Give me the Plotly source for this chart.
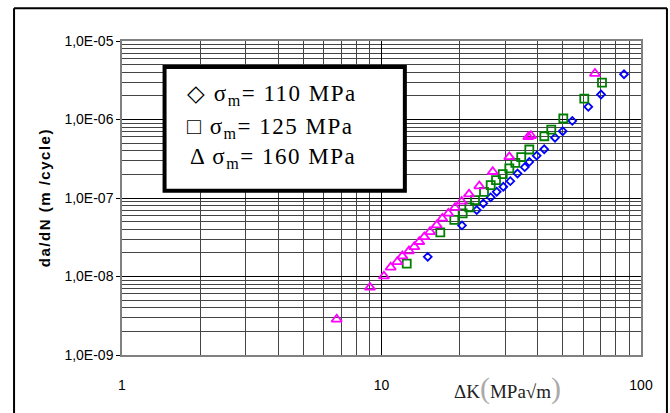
import plotly.graph_objects as go

# Data
dk_110 = [15.07, 20.43, 23.28, 24.68, 26.35, 27.79, 29.47, 31.36, 33.43, 35.64,
          37.12, 39.64, 42.36, 46.63, 49.93, 54.36, 62.64, 70.14, 86.0]
da_110 = [1.78e-8, 4.47e-8, 7.01e-8, 8.52e-8, 1.02e-7, 1.20e-7, 1.39e-7, 1.64e-7, 2.05e-7, 2.47e-7,
          2.88e-7, 3.46e-7, 4.18e-7, 5.86e-7, 7.09e-7, 9.59e-7, 1.45e-6, 2.08e-6, 3.77e-6]

dk_125 = [12.51, 16.85, 19.08, 20.55, 21.80, 22.93, 24.83, 26.35, 27.62, 29.32,
          31.09, 32.79, 34.55, 37.12, 42.41, 45.11, 50.19, 60.45, 70.75]
da_125 = [1.46e-8, 3.64e-8, 5.27e-8, 6.36e-8, 7.58e-8, 9.39e-8, 1.20e-7, 1.46e-7, 1.69e-7, 2.01e-7,
          2.38e-7, 2.80e-7, 3.31e-7, 4.15e-7, 6.12e-7, 7.45e-7, 1.03e-6, 1.85e-6, 2.95e-6]

dk_160 = [6.72, 9.03, 10.22, 10.85, 11.51, 12.03, 12.76, 13.38, 13.98, 14.62,
          15.38, 16.32, 17.15, 18.09, 19.20, 20.37, 21.74, 23.82, 26.83, 31.09,
          36.79, 37.68, 66.47]
da_160 = [2.85e-9, 7.27e-9, 1.01e-8, 1.31e-8, 1.54e-8, 1.82e-8, 2.11e-8, 2.39e-8, 2.77e-8, 3.20e-8,
          3.71e-8, 4.51e-8, 5.49e-8, 6.36e-8, 7.54e-8, 9.04e-8, 1.12e-7, 1.42e-7, 2.16e-7, 3.34e-7,
          6.00e-7, 6.21e-7, 3.85e-6]

x_tickvals = [1, 10, 100]
x_ticktext = ["1", "10", "100"]
y_tickvals = [1e-9, 1e-8, 1e-7, 1e-6, 1e-5]
y_ticktext = ["1,0E-09", "1,0E-08", "1,0E-07", "1,0E-06", "1,0E-05"]

legend_labels = ["\u25C7 \u03C3<sub>m</sub>= 110 MPa",
                 "\u25A1 \u03C3<sub>m</sub>= 125 MPa",
                 "\u0394 \u03C3<sub>m</sub>= 160 MPa"]

fig = go.Figure()
fig.add_trace(go.Scatter(x=dk_110, y=da_110, mode="markers", showlegend=False,
                         marker=dict(symbol="diamond-open", size=6, color="#0000FF",
                                     line=dict(width=1.8, color="#0000FF"))))
fig.add_trace(go.Scatter(x=dk_125, y=da_125, mode="markers", showlegend=False,
                         marker=dict(symbol="square-open", size=8, color="#008000",
                                     line=dict(width=1.8, color="#008000"))))
fig.add_trace(go.Scatter(x=dk_160, y=da_160, mode="markers", showlegend=False,
                         marker=dict(symbol="triangle-up-open", size=9, color="#FF00FF",
                                     line=dict(width=1.8, color="#FF00FF"))))

tickfont = dict(family="Liberation Sans, Arial, sans-serif", size=14, color="#000000")

fig.update_xaxes(type="log", range=[0, 2], tickvals=x_tickvals, ticktext=x_ticktext,
                 tickfont=tickfont, showgrid=True, gridcolor="#000000", gridwidth=1,
                 minor=dict(showgrid=True, gridcolor="#444444", gridwidth=1,
                            dtick="D1", ticks=""),
                 showline=True, linecolor="#808080", linewidth=1.5, mirror=True,
                 ticks="", ticklabelstandoff=16, zeroline=False)
fig.update_yaxes(type="log", range=[-9, -5], tickvals=y_tickvals, ticktext=y_ticktext,
                 tickfont=tickfont, showgrid=True, gridcolor="#000000", gridwidth=1,
                 minor=dict(showgrid=True, gridcolor="#444444", gridwidth=1,
                            dtick="D1", ticks=""),
                 showline=True, linecolor="#808080", linewidth=1.5, mirror=True,
                 ticks="outside", ticklen=4, tickcolor="#000000", zeroline=False)

frame = dict(color="#000000", width=2)
shapes = [
    # outer chart frame: left, top, right edges (runs to the bottom of the page)
    dict(type="line", xref="paper", yref="paper", x0=-0.208, x1=-0.208, y0=-0.19, y1=1.104,
         line=frame, layer="above"),
    dict(type="line", xref="paper", yref="paper", x0=-0.208, x1=1.05, y0=1.104, y1=1.104,
         line=frame, layer="above"),
    dict(type="line", xref="paper", yref="paper", x0=1.05, x1=1.05, y0=-0.19, y1=1.104,
         line=frame, layer="above"),
    # legend box
    dict(type="rect", xref="paper", yref="paper", x0=0.082, x1=0.545, y0=0.523, y1=0.917,
         line=dict(color="#000000", width=4), fillcolor="#FFFFFF", layer="above"),
]

serif = "Liberation Serif, Times New Roman, serif"
legend_pos = [(0.1214, 0.8272), (0.1214, 0.7222), (0.1272, 0.6258)]
annotations = []
for (lx, ly), txt in zip(legend_pos, legend_labels):
    annotations.append(dict(text="<span style='letter-spacing:1.5px'>" + txt + "</span>",
                            xref="paper", yref="paper", x=lx, y=ly,
                            xanchor="left", yanchor="middle", showarrow=False,
                            font=dict(family=serif, size=23, color="#000000")))
annotations.append(dict(text="<b><span style='letter-spacing:1.5px'>da/dN (m /cycle)</span></b>",
                        xref="paper", yref="paper",
                        x=-0.1503, y=0.5027, textangle=-90, showarrow=False,
                        xanchor="center", yanchor="middle",
                        font=dict(family="Liberation Sans, Arial, sans-serif", size=15, color="#000000")))
annotations.append(dict(text="\u0394K<span style='font-size:30px;color:#aaaaaa'>(</span>MPa\u221Am<span style='font-size:30px;color:#aaaaaa'>)</span>",
                        xref="paper", yref="paper", x=0.7437, y=-0.105, showarrow=False,
                        xanchor="center", yanchor="middle",
                        font=dict(family=serif, size=19, color="#222222")))

fig.update_layout(width=670, height=413, margin=dict(l=122, r=29, t=41, b=58),
                  paper_bgcolor="#FFFFFF", plot_bgcolor="#FFFFFF",
                  shapes=shapes, annotations=annotations, showlegend=False)

fig.write_html("out.html", config={"displayModeBar": False},
               post_script="document.body.style.margin='0';document.body.style.overflow='hidden';")
